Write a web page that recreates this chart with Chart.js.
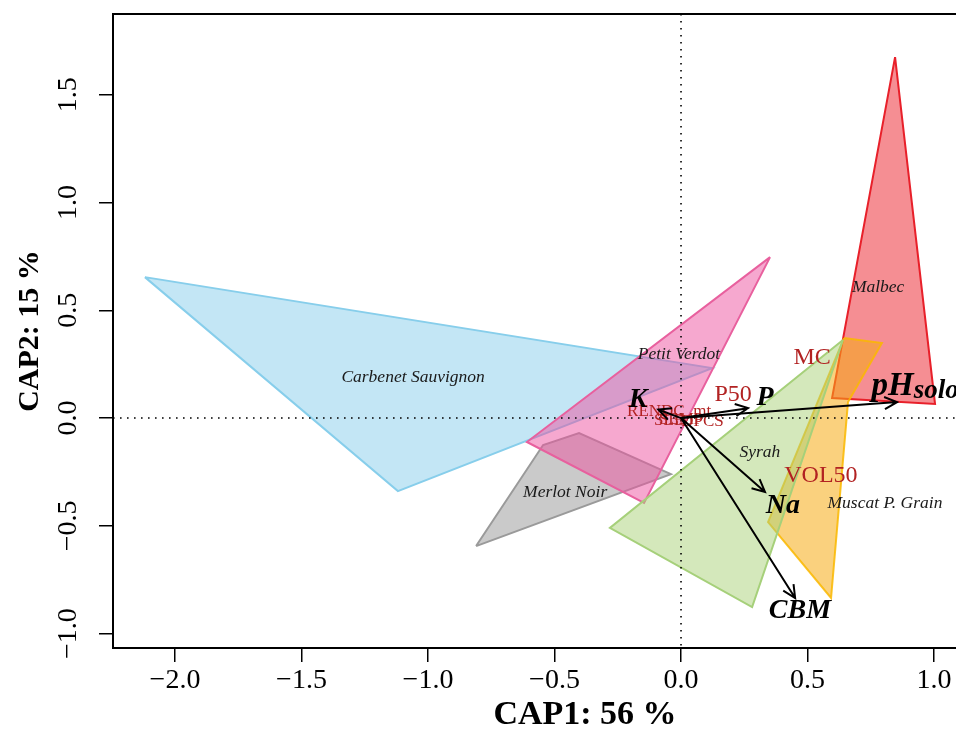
<!DOCTYPE html>
<html>
<head>
<meta charset="utf-8">
<script src="https://cdn.jsdelivr.net/npm/chart.js@4/dist/chart.umd.min.js"></script>
<style>
  html, body { margin: 0; padding: 0; overflow: hidden; background: #fff; width: 956px; height: 736px; }
  #wrap { position: absolute; left: 0; top: 0; width: 1080px; height: 736px; }
</style>
</head>
<body>
<div id="wrap"><canvas id="c" width="1080" height="736"></canvas></div>
<script>
// Cultivar hulls in the CAP1 / CAP2 ordination space
const groupNames = ['Carbenet Sauvignon', 'Malbec', 'Merlot Noir', 'Muscat P. Grain', 'Petit Verdot', 'Syrah'];
const hullCarbenet = [[-2.119, 0.654], [0.123, 0.232], [-1.119, -0.339]];
const hullMalbec   = [[0.846, 1.675], [1.004, 0.065], [0.597, 0.093]];
const hullMerlot   = [[-0.810, -0.594], [-0.545, -0.125], [-0.403, -0.070], [-0.040, -0.260]];
const hullMuscat   = [[0.644, 0.371], [0.794, 0.348], [0.660, 0.074], [0.593, -0.835], [0.344, -0.483]];
const hullPetit    = [[0.352, 0.747], [-0.146, -0.394], [-0.609, -0.111]];
const hullSyrah    = [[0.640, 0.362], [0.281, -0.877], [-0.281, -0.510]];
const groupCentres = [[-1.059, 0.190], [0.779, 0.608], [-0.458, -0.343], [0.806, -0.394], [-0.008, 0.297], [0.312, -0.158]];

// Fitted soil vectors (arrows) and where their names sit
const vectorNames = ['K', 'P', 'pH', 'Na', 'CBM'];
const vectorEnds  = [[-0.090, 0.040], [0.265, 0.046], [0.854, 0.074], [0.332, -0.343], [0.451, -0.835]];
const vectorLabelAt = [[-0.170, 0.084], [0.332, 0.093], [0.925, 0.145], [0.403, -0.408], [0.470, -0.896]];

// Other environmental variables (labels only)
const envNames = ['MC', 'P50', 'VOL50', 'RENDC_mt', 'SLB', 'SEMP', 'DPCS'];
const envAt    = [[0.518, 0.278], [0.206, 0.107], [0.553, -0.269], [-0.047, 0.030], [-0.045, -0.012], [0.000, -0.008], [0.085, -0.016]];

const xTicks = [-2.0, -1.5, -1.0, -0.5, 0.0, 0.5, 1.0, 1.5];
const yTicks = [-1.0, -0.5, 0.0, 0.5, 1.0, 1.5];

const hulls = [hullCarbenet, hullMalbec, hullMerlot, hullMuscat, hullPetit, hullSyrah];
const fills   = ['rgba(135,206,235,0.5)', 'rgba(235,30,40,0.5)', 'rgba(150,150,150,0.5)', 'rgba(245,172,20,0.55)', 'rgba(238,82,160,0.5)', 'rgba(170,210,120,0.5)'];
const strokes = ['#87CEEB', '#E8202A', '#9A9A9A', 'rgba(250,185,0,0.85)', '#E8609E', '#A6D07A'];

const serif = "'Liberation Serif', 'Times New Roman', serif";
const fmt = v => (v < 0 ? '\u2212' : '') + Math.abs(v).toFixed(1);

const datasets = hulls.map((h, i) => ({
  label: groupNames[i],
  data: h.concat([h[0]]).map(p => ({ x: p[0], y: p[1] })),
  showLine: true,
  fill: 'shape',
  backgroundColor: fills[i],
  borderColor: strokes[i],
  borderWidth: 2,
  pointRadius: 0,
  tension: 0,
  order: 10 - i
}));

function drawArrow(ctx, x0, y0, x1, y1) {
  const a = Math.atan2(y1 - y0, x1 - x0);
  const L = 14, w = 0.45;
  ctx.beginPath();
  ctx.moveTo(x0, y0); ctx.lineTo(x1, y1);
  ctx.moveTo(x1 - L * Math.cos(a - w), y1 - L * Math.sin(a - w));
  ctx.lineTo(x1, y1);
  ctx.lineTo(x1 - L * Math.cos(a + w), y1 - L * Math.sin(a + w));
  ctx.stroke();
}

const overlay = {
  id: 'overlay',
  afterDatasetsDraw(chart) {
    const { ctx, chartArea: a, scales: { x, y } } = chart;
    ctx.save();
    ctx.beginPath();
    ctx.rect(a.left, a.top, a.right - a.left, a.bottom - a.top);
    ctx.clip();

    // zero reference lines
    ctx.strokeStyle = '#000';
    ctx.lineWidth = 1.6;
    ctx.setLineDash([1.6, 5.4]);
    ctx.beginPath();
    ctx.moveTo(x.getPixelForValue(0), a.top); ctx.lineTo(x.getPixelForValue(0), a.bottom);
    ctx.moveTo(a.left, y.getPixelForValue(0)); ctx.lineTo(a.right, y.getPixelForValue(0));
    ctx.stroke();
    ctx.setLineDash([]);

    // cultivar names
    ctx.fillStyle = '#1a1a1a';
    ctx.font = 'italic 17.5px ' + serif;
    ctx.textAlign = 'center';
    ctx.textBaseline = 'middle';
    groupCentres.forEach((c, i) => ctx.fillText(groupNames[i], x.getPixelForValue(c[0]), y.getPixelForValue(c[1])));

    // environmental variable names
    ctx.fillStyle = '#B22222';
    envNames.forEach((n, i) => {
      ctx.font = (i < 3 ? '24px ' : '17px ') + serif;
      ctx.fillText(n, x.getPixelForValue(envAt[i][0]), y.getPixelForValue(envAt[i][1]));
    });

    // soil vectors
    ctx.strokeStyle = '#000';
    ctx.lineWidth = 2;
    const ox = x.getPixelForValue(0), oy = y.getPixelForValue(0);
    vectorEnds.forEach(e => drawArrow(ctx, ox, oy, x.getPixelForValue(e[0]), y.getPixelForValue(e[1])));

    ctx.fillStyle = '#000';
    vectorNames.forEach((n, i) => {
      const px = x.getPixelForValue(vectorLabelAt[i][0]);
      const py = y.getPixelForValue(vectorLabelAt[i][1]);
      if (n === 'pH') {
        ctx.font = 'bold italic 33px ' + serif;
        const w1 = ctx.measureText('pH').width;
        ctx.font = 'bold italic 27px ' + serif;
        const w2 = ctx.measureText('solo').width;
        const left = px - (w1 + w2) / 2;
        ctx.textAlign = 'left';
        ctx.font = 'bold italic 33px ' + serif;
        ctx.fillText('pH', left, py);
        ctx.font = 'bold italic 27px ' + serif;
        ctx.fillText('solo', left + w1, py + 4);
        ctx.textAlign = 'center';
      } else {
        ctx.font = 'bold italic 28px ' + serif;
        ctx.fillText(n, px, py);
      }
    });
    ctx.restore();

    // plot frame
    ctx.save();
    ctx.strokeStyle = '#000';
    ctx.lineWidth = 2;
    ctx.strokeRect(a.left, a.top, a.right - a.left, a.bottom - a.top);
    ctx.restore();
  }
};

new Chart(document.getElementById('c'), {
  type: 'scatter',
  data: { datasets },
  options: {
    responsive: false,
    animation: false,
    layout: { padding: { top: 14, right: 23, bottom: 0, left: 0 } },
    plugins: { legend: { display: false }, tooltip: { enabled: false } },
    scales: {
      x: {
        type: 'linear', min: -2.245, max: 1.486,
        afterBuildTicks: s => { s.ticks = xTicks.map(v => ({ value: v })); },
        afterFit: s => { s.height = 88; s.paddingLeft = 0; s.paddingRight = 0; },
        grid: { drawOnChartArea: false, drawTicks: true, tickLength: 14, color: '#000', lineWidth: 1.5 },
        border: { display: false },
        ticks: { font: { family: serif, size: 28 }, color: '#000', padding: 2, callback: v => fmt(v), maxRotation: 0, autoSkip: false },
        title: { display: true, text: 'CAP1: 56 %', color: '#000', font: { family: serif, size: 34, weight: 'bold' }, padding: { top: 0, bottom: 0 } }
      },
      y: {
        type: 'linear', min: -1.067, max: 1.875,
        afterBuildTicks: s => { s.ticks = yTicks.map(v => ({ value: v })); },
        afterFit: s => { s.width = 113; s.paddingTop = 0; s.paddingBottom = 0; },
        grid: { drawOnChartArea: false, drawTicks: true, tickLength: 14, color: '#000', lineWidth: 1.5 },
        border: { display: false },
        ticks: { font: { family: serif, size: 28 }, color: '#000', padding: 5, callback: v => fmt(v), minRotation: 90, maxRotation: 90, crossAlign: 'center', autoSkip: false },
        title: { display: true, text: 'CAP2: 15 %', color: '#000', font: { family: serif, size: 30, weight: 'bold' }, padding: { top: 12, bottom: 0 } }
      }
    }
  },
  plugins: [overlay]
});
</script>
</body>
</html>
